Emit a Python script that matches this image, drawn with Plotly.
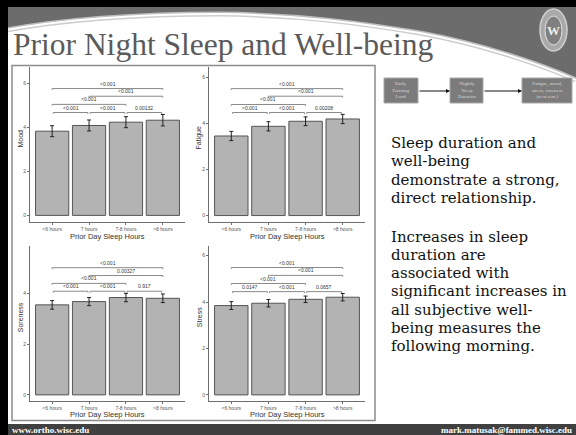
import plotly.graph_objects as go

W, H = 576, 435

# ---------------- data ----------------
categories = ["<6 hours", "7 hours", "7-8 hours", ">8 hours"]
measures = ["Mood", "Fatigue", "Soreness", "Stress"]

mood_mean = [3.83, 4.09, 4.24, 4.33]
mood_se = [0.25, 0.25, 0.25, 0.26]
fatigue_mean = [3.46, 3.88, 4.10, 4.20]
fatigue_se = [0.20, 0.20, 0.19, 0.20]
soreness_mean = [3.56, 3.69, 3.85, 3.82]
soreness_se = [0.17, 0.16, 0.165, 0.17]
stress_mean = [3.85, 3.95, 4.12, 4.21]
stress_se = [0.17, 0.16, 0.14, 0.16]

comparisons = [(0, 3), (1, 3), (0, 2), (0, 1), (1, 2), (2, 3)]
mood_p = ["<0.001", "<0.001", "<0.001", "<0.001", "<0.001", "0.00132"]
fatigue_p = ["<0.001", "<0.001", "<0.001", "<0.001", "<0.001", "0.00208"]
soreness_p = ["<0.001", "0.00327", "<0.001", "<0.001", "<0.001", "0.917"]
stress_p = ["<0.001", "<0.001", "<0.001", "0.0147", "<0.001", "0.0657"]
mood_sig_y = [5.77, 5.42, 5.05, 4.68, 4.68, 4.68]
fatigue_sig_y = [5.52, 5.19, 4.83, 4.48, 4.48, 4.48]
soreness_sig_y = [5.03, 4.72, 4.41, 4.10, 4.10, 4.10]
stress_sig_y = [5.49, 5.15, 4.80, 4.45, 4.45, 4.45]

y_ticks = [0, 2, 4, 6]

slide_title = "Prior Night Sleep and Well-being"
flow_boxes = ["Daily<br>Training<br>Load", "Nightly<br>Sleep<br>Duration",
              "Fatigue, mood,<br>stress, soreness<br>(next a.m.)"]
text_block_1 = ["Sleep duration and", "well-being", "demonstrate a strong,", "direct relationship."]
text_block_2 = ["Increases in sleep", "duration are", "associated with",
                "significant increases in", "all subjective well-",
                "being measures the", "following morning."]
footer_left = "www.ortho.wisc.edu"
footer_right = "mark.matusak@fammed.wisc.edu"


# ---------------- helpers ----------------
def fx(x):
    return x / W


def fy(y):
    return 1 - y / H


def P(*pts):
    return " ".join(f"{fx(x):.4f},{fy(y):.4f}" for x, y in pts)


shapes = []
annotations = []

# ---------------- slide background ----------------
band_path = (f"M {P((0,7))} L {P((576,7))} L {P((576,80))} "
             f"C {P((540,64),(480,44),(420,33))} C {P((360,23),(300,15),(220,14))} "
             f"C {P((130,14),(60,20),(0,31))} Z")
shapes.append(dict(type="path", xref="paper", yref="paper", layer="below",
                   path=band_path, fillcolor="#6c6c6c", line=dict(width=0)))
glow_path = (f"M {P((576,80))} C {P((540,64),(480,44),(420,33))} C {P((360,23),(300,15),(220,14))} "
             f"C {P((130,14),(60,20),(0,31))}")
shapes.append(dict(type="path", xref="paper", yref="paper", layer="below",
                   path=glow_path, line=dict(color="rgba(200,200,200,0.9)", width=5)))
shapes.append(dict(type="path", xref="paper", yref="paper", layer="below",
                   path=glow_path, line=dict(color="#ffffff", width=2)))
shapes.append(dict(type="rect", xref="paper", yref="paper", layer="below",
                   x0=fx(0), x1=fx(576), y0=fy(7), y1=fy(0), fillcolor="#000000", line=dict(width=0)))
shapes.append(dict(type="rect", xref="paper", yref="paper", layer="below",
                   x0=fx(0), x1=fx(8), y0=fy(435), y1=fy(0), fillcolor="#000000", line=dict(width=0)))
# footer bar
shapes.append(dict(type="rect", xref="paper", yref="paper", layer="below",
                   x0=fx(8), x1=fx(576), y0=fy(435), y1=fy(424), fillcolor="#404040", line=dict(width=0)))
# crest
shapes.append(dict(type="circle", xref="paper", yref="paper", layer="below",
                   x0=fx(540), x1=fx(567), y0=fy(51), y1=fy(9), fillcolor="#a9a9a9", line=dict(color="#d0d0d0", width=1.5)))
shapes.append(dict(type="circle", xref="paper", yref="paper", layer="below",
                   x0=fx(545), x1=fx(562), y0=fy(45), y1=fy(16), fillcolor="#808080", line=dict(color="#e0e0e0", width=1)))
annotations.append(dict(text="<b>W</b>", x=fx(553.5), y=fy(31), xref="paper", yref="paper", showarrow=False,
                        font=dict(family="Liberation Serif", size=13, color="#eeeeee"), xanchor="center", yanchor="middle"))

# chart image frame
shapes.append(dict(type="rect", xref="paper", yref="paper", layer="below",
                   x0=fx(12), x1=fx(375), y0=fy(420.5), y1=fy(65.5), fillcolor="#ffffff",
                   line=dict(color="#8c8c8c", width=1.5)))

annotations.append(dict(text=slide_title, x=fx(11), y=fy(45), xref="paper", yref="paper", showarrow=False,
                        xanchor="left", yanchor="middle",
                        font=dict(family="Liberation Serif", size=31.5, color="#5a5a5a")))

# flow diagram
box_x = [(384, 418), (450, 483), (522, 572)]
for (x0, x1), label in zip(box_x, flow_boxes):
    shapes.append(dict(type="rect", xref="paper", yref="paper", x0=fx(x0), x1=fx(x1), y0=fy(103), y1=fy(78),
                       fillcolor="#7b7b7b", line=dict(color="#a8a8a8", width=1)))
    annotations.append(dict(text=label, x=fx((x0 + x1) / 2), y=fy(90.5), xref="paper", yref="paper",
                            showarrow=False, xanchor="center", yanchor="middle",
                            font=dict(family="Liberation Serif", size=5, color="#d8d8d8")))
for (a, b) in [(box_x[0], box_x[1]), (box_x[1], box_x[2])]:
    annotations.append(dict(text="", x=fx(b[0]), y=fy(91), xref="paper", yref="paper", showarrow=True,
                            ax=-(b[0] - a[1]), ay=0, arrowhead=2, arrowsize=0.8, arrowwidth=1, arrowcolor="#111111"))

# right side text
for i, line in enumerate(text_block_1):
    annotations.append(dict(text=line, x=fx(389), y=fy(143 + 18.3 * i), xref="paper", yref="paper",
                            showarrow=False, xanchor="left", yanchor="middle",
                            font=dict(family="DejaVu Serif", size=15, color="#111111")))
for i, line in enumerate(text_block_2):
    annotations.append(dict(text=line, x=fx(389), y=fy(236.5 + 18.3 * i), xref="paper", yref="paper",
                            showarrow=False, xanchor="left", yanchor="middle",
                            font=dict(family="DejaVu Serif", size=15, color="#111111")))

# footer text
annotations.append(dict(text=f"<b>{footer_left}</b>", x=fx(10), y=fy(429.5), xref="paper", yref="paper",
                        showarrow=False, xanchor="left", yanchor="middle",
                        font=dict(family="Liberation Serif", size=9, color="#ffffff")))
annotations.append(dict(text=f"<b>{footer_right}</b>", x=fx(574), y=fy(429.5), xref="paper", yref="paper",
                        showarrow=False, xanchor="right", yanchor="middle",
                        font=dict(family="Liberation Serif", size=9, color="#ffffff")))

# ---------------- panels ----------------
panels = [
    dict(name=measures[0], mean=mood_mean, se=mood_se, p=mood_p, sy=mood_sig_y,
         xd=(30, 185), yd=(67, 222), yr=(-0.3, 6.75)),
    dict(name=measures[1], mean=fatigue_mean, se=fatigue_se, p=fatigue_p, sy=fatigue_sig_y,
         xd=(209, 365), yd=(67, 222), yr=(-0.28, 6.46)),
    dict(name=measures[2], mean=soreness_mean, se=soreness_se, p=soreness_p, sy=soreness_sig_y,
         xd=(30, 185), yd=(245.7, 400.7), yr=(-0.23, 5.9)),
    dict(name=measures[3], mean=stress_mean, se=stress_se, p=stress_p, sy=stress_sig_y,
         xd=(209, 365), yd=(245.7, 400.7), yr=(-0.25, 6.43)),
]

fig = go.Figure()
axis_color = "#6e6e6e"
tick_font = dict(family="Liberation Sans", size=5, color="#555555")
xpos = list(range(len(categories)))

layout_axes = {}
for k, pnl in enumerate(panels):
    n = "" if k == 0 else str(k + 1)
    xa, ya = f"x{n}", f"y{n}"
    fig.add_trace(go.Bar(
        x=xpos, y=pnl["mean"], width=0.9,
        marker=dict(color="#b3b3b3", line=dict(color="#555555", width=1)),
        error_y=dict(type="data", array=pnl["se"], color="#222222", thickness=1, width=2),
        xaxis=xa, yaxis=ya, hoverinfo="skip"))
    layout_axes[f"xaxis{n}"] = dict(
        domain=[fx(pnl["xd"][0]), fx(pnl["xd"][1])], anchor=ya, range=[-0.6, 3.6],
        tickvals=xpos, ticktext=categories, tickfont=tick_font, ticks="outside", ticklen=2,
        tickcolor=axis_color, showline=True, linecolor=axis_color, linewidth=1,
        showgrid=False, zeroline=False, fixedrange=True)
    layout_axes[f"yaxis{n}"] = dict(
        domain=[fy(pnl["yd"][1]), fy(pnl["yd"][0])], anchor=xa, range=list(pnl["yr"]),
        tickvals=y_ticks, tickfont=tick_font, ticks="outside", ticklen=2,
        tickcolor=axis_color, showline=True, linecolor=axis_color, linewidth=1,
        showgrid=False, zeroline=False, fixedrange=True)
    annotations.append(dict(text=pnl["name"], x=fx(pnl["xd"][0] - 10), y=fy((pnl["yd"][0] + pnl["yd"][1]) / 2 - 6),
                            xref="paper", yref="paper", showarrow=False, textangle=-90,
                            xanchor="center", yanchor="middle",
                            font=dict(family="Liberation Sans", size=7, color="#333333")))
    annotations.append(dict(text="Prior Day Sleep Hours", x=fx((pnl["xd"][0] + pnl["xd"][1]) / 2),
                            y=fy(pnl["yd"][1] + 14), xref="paper", yref="paper", showarrow=False,
                            xanchor="center", yanchor="middle",
                            font=dict(family="Liberation Sans", size=7.5, color="#333333")))
    tip = 0.06
    for j, (a, b) in enumerate(comparisons):
        yv = pnl["sy"][j]
        s = 0.03 if j >= 3 else 0.0
        x0, x1 = a + s, b - s
        shapes.append(dict(type="path", xref=xa, yref=ya,
                           path=f"M {x0},{yv - tip} L {x0},{yv} L {x1},{yv} L {x1},{yv - tip}",
                           line=dict(color="#8a8a8a", width=1)))
        annotations.append(dict(text=pnl["p"][j], x=(a + b) / 2, y=yv, xref=xa, yref=ya,
                                showarrow=False, xanchor="center", yanchor="bottom", yshift=0,
                                font=dict(family="Liberation Sans", size=5, color="#333333")))

fig.update_layout(
    width=W, height=H, margin=dict(l=0, r=0, t=0, b=0),
    paper_bgcolor="#ffffff", plot_bgcolor="rgba(0,0,0,0)",
    showlegend=False, bargap=0.1, hovermode=False,
    shapes=shapes, annotations=annotations, **layout_axes)

fig.write_html("out.html", config={"displayModeBar": False, "staticPlot": True},
               post_script="document.body.style.margin='0px';document.body.style.overflow='hidden';")
